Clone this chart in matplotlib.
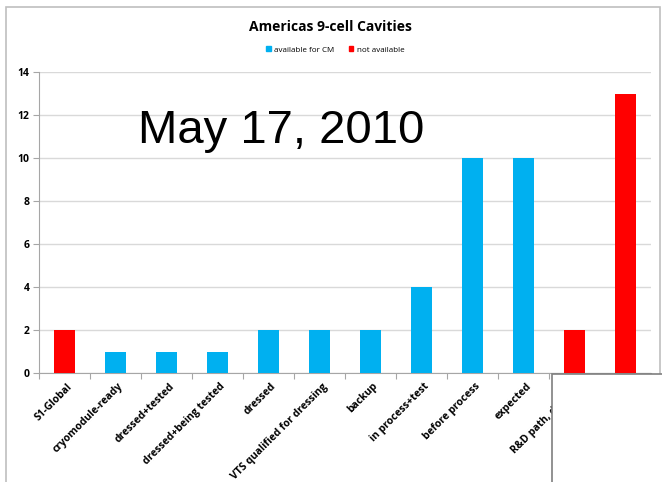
import matplotlib
matplotlib.use("Agg")
import matplotlib.pyplot as plt
from matplotlib.patches import Rectangle, Patch

categories = ["S1-Global", "cryomodule-ready", "dressed+tested", "dressed+being tested",
              "dressed", "VTS qualified for dressing", "backup", "in process+test",
              "before process", "expected", "R&D path, dressed", "not qualified"]
available = [0, 1, 1, 1, 2, 2, 2, 4, 10, 10, 0, 0]
not_available = [2, 0, 0, 0, 0, 0, 0, 0, 0, 0, 2, 13]
yticks = [0, 2, 4, 6, 8, 10, 12, 14]

BLUE = "#00B0F0"
RED = "#FF0000"

W, H = 662, 482
fig = plt.figure(figsize=(W / 100, H / 100), dpi=100)
fig.patch.set_facecolor("white")

# outer chart frame
fig.add_artist(Rectangle((6 / W, -0.05), (660 - 6) / W, 1.05 - 7 / H,
                         transform=fig.transFigure, fill=False,
                         edgecolor="#BFBFBF", linewidth=1.2, zorder=0))

ax = fig.add_axes([39 / W, 1 - 373 / H, (651 - 39) / W, (373 - 72) / H])
x = list(range(len(categories)))
ax.bar(x, available, width=0.4, color=BLUE, zorder=3, label="available for CM")
ax.bar(x, not_available, width=0.4, color=RED, zorder=3, label="not available")

ax.set_xlim(-0.5, len(categories) - 0.5)
ax.set_ylim(0, 14)
ax.set_yticks(yticks)
ax.set_yticklabels([str(v) for v in yticks], fontsize=7.5, fontweight="bold",
                   family="Open Sans")
ax.yaxis.grid(True, color="#D9D9D9", linewidth=1)
ax.set_axisbelow(True)
ax.tick_params(axis="y", length=4, color="#A6A6A6", pad=3)

ax.set_xticks([i + 0.5 for i in range(-1, len(categories))], minor=False)
ax.set_xticklabels([])
ax.tick_params(axis="x", length=4, color="#A6A6A6")
for i, c in enumerate(categories):
    ax.text(i + 0.12, -0.55, c, rotation=45, ha="right", va="center",
            rotation_mode="anchor", fontsize=7.5, fontweight="bold",
            family="Open Sans", color="#000000")

for s in ["top", "right"]:
    ax.spines[s].set_visible(False)
for s in ["left", "bottom"]:
    ax.spines[s].set_color("#A6A6A6")

fig.text(330 / W, 1 - 27 / H, "Americas 9-cell Cavities", ha="center", va="center",
         fontsize=10, fontweight="bold", family="Open Sans")

handles = [Patch(color=BLUE), Patch(color=RED)]
fig.legend(handles, ["available for CM", "not available"], loc="center",
           bbox_to_anchor=(335 / W, 1 - 50 / H), ncol=2, frameon=False,
           prop={"family": "Open Sans", "size": 5.8}, handlelength=0.6,
           handleheight=0.6, handletextpad=0.4, columnspacing=1.8)

fig.text(138 / W, 1 - 143 / H, "May 17, 2010", ha="left", va="baseline",
         fontsize=34, family="Liberation Sans")

# white overlay box at bottom right
fig.add_artist(Rectangle((552 / W, -0.05), 0.5, 0.05 + (482 - 374) / H,
                         transform=fig.transFigure, facecolor="white",
                         edgecolor="#7F7F7F", linewidth=1.2, zorder=10))

fig.savefig("out.png", dpi=100)
